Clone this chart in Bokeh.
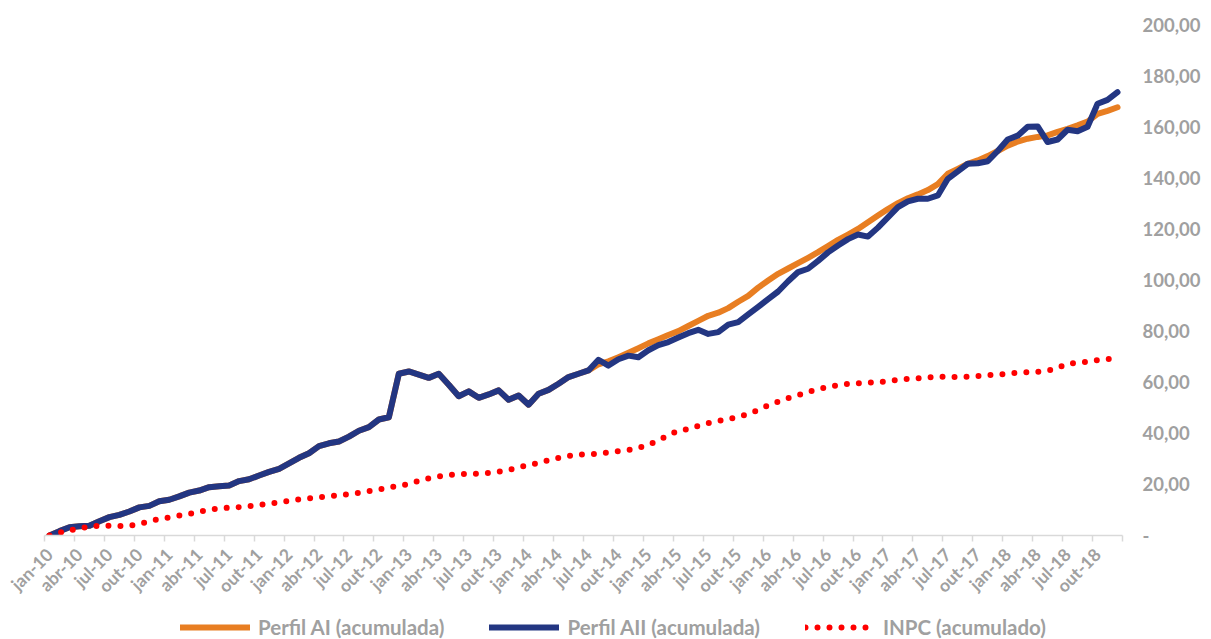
import math
from bokeh.plotting import figure
from bokeh.layouts import column
from bokeh.models import FixedTicker, Range1d, Legend, LegendItem, ColumnDataSource
from bokeh.embed import file_html
from bokeh.resources import INLINE

# ---------------- data ----------------
month_names = ["jan", "fev", "mar", "abr", "mai", "jun", "jul", "ago", "set", "out", "nov", "dez"]
years = [10, 11, 12, 13, 14, 15, 16, 17, 18]
months = [f"{m}-{y:02d}" for y in years for m in month_names]

perfil_aii = [
    0.0, 1.7, 3.2, 3.6, 3.8, 5.6, 7.2, 8.1, 9.4, 11.0, 11.6, 13.4,
    14.0, 15.3, 16.8, 17.6, 18.9, 19.3, 19.6, 21.3, 22.0, 23.5, 24.9, 26.1,
    28.2, 30.4, 32.2, 35.0, 36.1, 36.8, 38.7, 41.0, 42.4, 45.4, 46.3, 63.3,
    64.2, 63.0, 61.7, 63.3, 59.0, 54.5, 56.4, 53.9, 55.2, 56.8, 53.1, 54.8,
    51.2, 55.5, 57.0, 59.4, 62.0, 63.3, 64.6, 68.8, 66.5, 69.0, 70.4, 69.8,
    72.5, 74.5, 75.7, 77.5, 79.2, 80.5, 78.9, 79.6, 82.5, 83.5, 86.5, 89.5,
    92.5, 95.5, 99.5, 103.1, 104.4, 107.5, 110.8, 113.5, 116.0, 117.8, 117.0, 120.5,
    124.5, 128.5, 130.8, 131.8, 131.8, 133.1, 139.6, 142.5, 145.5, 145.7, 146.5, 150.5,
    155.0, 156.5, 160.0, 160.1, 154.0, 155.0, 158.8, 158.2, 160.0, 169.0, 170.5, 173.5,
]

perfil_ai = [
    0.0, 1.7, 3.2, 3.6, 3.8, 5.6, 7.2, 8.1, 9.4, 11.0, 11.6, 13.4,
    14.0, 15.3, 16.8, 17.6, 18.9, 19.3, 19.6, 21.3, 22.0, 23.5, 24.9, 26.1,
    28.2, 30.4, 32.2, 35.0, 36.1, 36.8, 38.7, 41.0, 42.4, 45.4, 46.3, 63.3,
    64.2, 63.0, 61.7, 63.3, 59.0, 54.5, 56.4, 53.9, 55.2, 56.8, 53.1, 54.8,
    51.2, 55.5, 57.0, 59.4, 62.0, 63.3, 64.6, 67.0, 68.2, 69.8, 71.5, 73.3,
    75.2, 76.8, 78.5, 80.0, 82.0, 84.0, 86.0, 87.2, 89.0, 91.5, 93.8, 97.0,
    99.8, 102.4, 104.5, 106.6, 108.7, 110.9, 113.3, 115.7, 117.8, 120.0, 122.6, 125.2,
    127.8, 130.1, 132.0, 133.5, 135.2, 137.5, 141.6, 143.5, 145.5, 146.8, 148.5, 150.5,
    152.6, 154.2, 155.3, 156.0, 156.6, 158.0, 159.2, 160.5, 162.0, 165.0, 166.2, 167.6,
]

inpc = [
    0.0, 1.1, 2.0, 2.8, 3.5, 3.8, 3.8, 3.7, 3.8, 4.5, 5.6, 6.4,
    7.1, 7.8, 8.5, 9.3, 10.1, 10.6, 10.9, 11.1, 11.5, 12.0, 12.5, 13.0,
    13.6, 14.1, 14.5, 15.0, 15.3, 15.8, 16.2, 16.7, 17.4, 18.0, 18.8, 19.4,
    20.2, 21.4, 22.4, 23.1, 23.6, 24.0, 24.1, 24.2, 24.5, 25.0, 25.7, 26.6,
    27.6, 28.4, 29.5, 30.4, 31.1, 31.7, 31.8, 32.0, 32.5, 33.0, 33.5, 34.3,
    35.5, 37.2, 39.2, 41.0, 41.6, 42.9, 44.0, 44.8, 45.5, 46.4, 47.6, 49.1,
    50.9, 52.4, 53.8, 54.9, 56.2, 57.3, 58.1, 58.9, 59.3, 59.6, 59.8, 60.0,
    60.4, 60.9, 61.3, 61.5, 61.8, 62.2, 62.0, 62.1, 62.1, 62.4, 62.7, 63.0,
    63.3, 63.7, 63.9, 64.1, 64.5, 65.6, 67.3, 67.6, 68.0, 68.6, 69.0, 69.3,
]

series_names = ["Perfil AI (acumulada)", "Perfil AII (acumulada)", "INPC (acumulado)"]
y_ticks = [0, 20, 40, 60, 80, 100, 120, 140, 160, 180, 200]
y_tick_labels = ["-", "20,00", "40,00", "60,00", "80,00", "100,00",
                 "120,00", "140,00", "160,00", "180,00", "200,00"]

# ---------------- styles ----------------
FONT = "Lato"
GRAY = "#a0a0a0"
STYLES = [
    dict(line_color="#E87E22", line_width=6, line_cap="round", line_join="round"),
    dict(line_color="#233682", line_width=6, line_cap="round", line_join="round"),
    dict(line_color="#FF0000", line_width=6, line_dash="0 12", line_cap="round", line_join="round"),
]
COLS = ["ai", "aii", "inpc"]

# ---------------- main chart ----------------
x = list(range(len(months)))
src = ColumnDataSource(dict(x=x, ai=perfil_ai, aii=perfil_aii, inpc=inpc))

p = figure(width=1211, height=615, output_backend="svg", toolbar_location=None,
           x_range=Range1d(-0.5, len(months) - 0.5), y_range=Range1d(0, 200),
           y_axis_location="right",
           min_border_left=44, min_border_right=89, min_border_top=24, min_border_bottom=80)
p.outline_line_color = None
p.grid.visible = False

for col, st in zip(COLS, STYLES):
    p.line("x", col, source=src, **st)

# x axis
tick_idx = x[::3]
xa = p.xaxis[0]
xa.ticker = FixedTicker(ticks=tick_idx,
                        minor_ticks=[i - 0.5 for i in tick_idx] + [len(months) - 0.5])
xa.major_label_overrides = {i: months[i] for i in tick_idx}
xa.major_label_orientation = math.pi / 4
xa.major_tick_line_color = None
xa.major_tick_out = 0
xa.major_tick_in = 0
xa.minor_tick_line_color = "#d9d9d9"
xa.minor_tick_line_width = 1.5
xa.minor_tick_out = 6
xa.minor_tick_in = 0
xa.axis_line_color = "#d9d9d9"
xa.axis_line_width = 1.5
xa.major_label_standoff = 10
xa.major_label_text_font = FONT
xa.major_label_text_font_style = "bold"
xa.major_label_text_font_size = "17.5px"
xa.major_label_text_color = GRAY

# y axis (right)
ya = p.yaxis[0]
ya.ticker = FixedTicker(ticks=y_ticks)
ya.major_label_overrides = {t: l for t, l in zip(y_ticks, y_tick_labels)}
ya.axis_line_color = None
ya.major_tick_line_color = None
ya.minor_tick_line_color = None
ya.major_tick_out = 0
ya.major_tick_in = 0
ya.major_label_standoff = 20
ya.major_label_text_font = FONT
ya.major_label_text_font_style = "bold"
ya.major_label_text_font_size = "18.5px"
ya.major_label_text_color = GRAY

# ---------------- legend strip ----------------
# same series, drawn out of view so that only the legend shows
lf = figure(width=1211, height=24, output_backend="svg", toolbar_location=None,
            x_range=Range1d(-1000, -999), y_range=Range1d(-1000, -999),
            x_axis_location=None, y_axis_location=None, min_border=0)
lf.outline_line_color = None
lf.grid.visible = False
items = []
for name, col, st in zip(series_names, COLS, STYLES):
    r = lf.line("x", col, source=src, **st)
    items.append(LegendItem(label=name, renderers=[r]))
legend = Legend(items=items, orientation="horizontal", location=(136, 0),
                glyph_width=70, glyph_height=20, label_standoff=8, spacing=45,
                padding=0, margin=0, border_line_color=None, background_fill_alpha=0,
                label_text_font=FONT, label_text_font_style="bold",
                label_text_font_size="20.5px", label_text_color=GRAY)
lf.add_layout(legend, "center")

layout = column(p, lf, spacing=0)
open("out.html", "w").write(file_html(layout, INLINE))
